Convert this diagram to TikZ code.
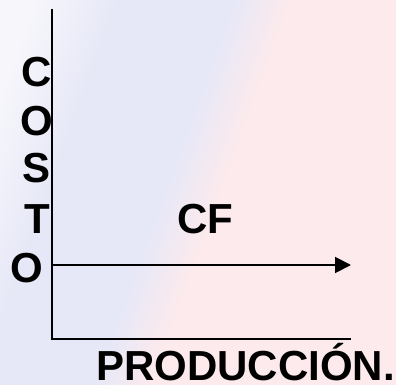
\documentclass[tikz,border=0pt]{standalone}
\usepackage{fontspec}
\setmainfont{Liberation Sans}
\usetikzlibrary{arrows.meta}
\definecolor{lavL}{HTML}{F6F6FB}
\definecolor{lav}{HTML}{E7E8F7}
\definecolor{pinkbg}{HTML}{FDEAEC}
\pgfdeclarehorizontalshading{bgshade}{100bp}{color(0bp)=(lavL); color(22bp)=(lavL); color(32bp)=(lav); color(46bp)=(lav); color(53bp)=(pinkbg); color(100bp)=(pinkbg)}
\tikzset{
  lbl/.style={font=\bfseries\fontsize{42}{42}\selectfont, inner sep=0pt, text=black},
  axisline/.style={line width=1.9pt, black},
  cfline/.style={line width=1.9pt, black, -{Triangle[length=16pt,width=16pt]}}
}
\begin{document}
\begin{tikzpicture}[x=1pt,y=-1pt]
\useasboundingbox (0,0) rectangle (396,385);
\shade[shading=bgshade, shading angle=-20] (0,0) rectangle (396,385);
% axes
\coordinate (ytop) at (52,9);
\coordinate (origin) at (52,339);
\coordinate (xend) at (351,339);
\draw[axisline] (ytop) -- (origin) -- (xend);
% CF arrow
\coordinate (cfs) at (52,265);
\coordinate (cfe) at (351,265);
\draw[cfline] (cfs) -- (cfe);
% labels
\node[lbl] (c1) at (37,72) {C};
\node[lbl] (o1) at (37,121) {O};
\node[lbl] (s1) at (37,168) {S};
\node[lbl] (t1) at (37,219) {T};
\node[lbl] (o2) at (27,268) {O};
\node[lbl] (cf) at (205,219) {CF};
\node[lbl, anchor=base west] (prod) at (96,380) {PRODUCCIÓN.};
\end{tikzpicture}
\end{document}
